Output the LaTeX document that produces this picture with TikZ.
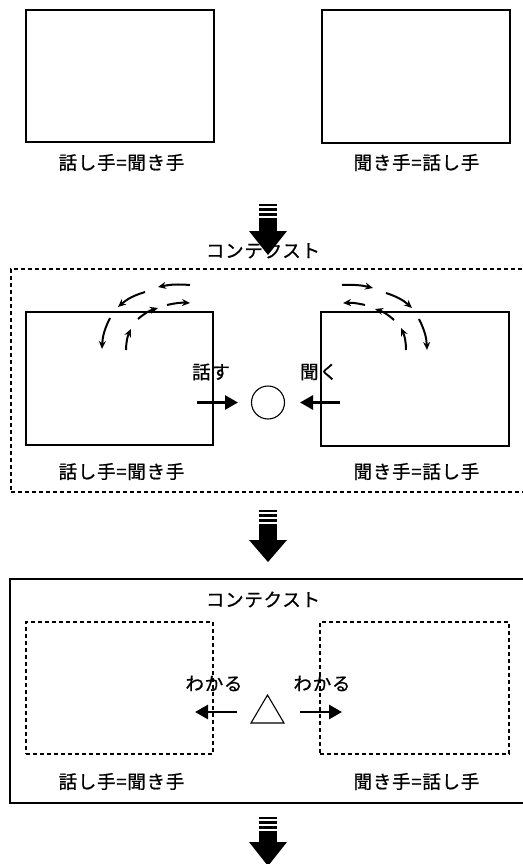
\documentclass[tikz,border=0pt]{standalone}
\usepackage{fontspec}
\newfontfamily\jp[LetterSpace=4,FakeBold=0.8]{Noto Sans CJK JP}
\usetikzlibrary{arrows.meta}
\newcommand\BigDown[3]{%
  \fill ({259},{#1}) rectangle ({277},{#1+2});
  \fill ({259},{#1+4}) rectangle ({277},{#1+7});
  \fill ({259},{#1+8.5}) rectangle ({277},{#1+12});
  \fill ({259},{#1+13.5}) rectangle ({277},{#2});
  \fill ({249},{#2}) -- ({287},{#2}) -- ({268},{#3}) -- cycle;
}
\begin{document}
\begin{tikzpicture}[x=1pt,y=-1pt,
  lbl/.style={font=\jp\fontsize{18.5}{20}\selectfont, inner sep=0pt},
  box/.style={draw, line width=1.2pt, inner sep=0pt, outer sep=0pt, anchor=north west},
  dbox/.style={draw, line width=1.1pt, dash pattern=on 4pt off 3pt, inner sep=0pt, outer sep=0pt, anchor=north west},
  thickarrow/.style={line width=2.8pt, -{Triangle[length=13pt,width=14pt]}},
  smallarrow/.style={line width=2pt, -{Stealth[length=8pt,width=7pt]}},
]
\useasboundingbox (0,0) rectangle (522,864);
\fill[white] (0,0) rectangle (522,864);

% ---------- stage 1 ----------
\node[box, minimum width=188pt, minimum height=132pt] (b1) at (26,10) {};
\node[box, minimum width=188pt, minimum height=133pt] (b2) at (322,10) {};
\node[lbl] (t1) at (121.5,162.5) {話し手=聞き手};
\node[lbl] (t2) at (416.5,162.5) {聞き手=話し手};

\BigDown{204}{231}{255}

% ---------- stage 2 ----------
\node[dbox, minimum width=529pt, minimum height=223pt] (ctxA) at (11,269) {};
\node[box, minimum width=187pt, minimum height=133pt] (m1) at (26,312) {};
\node[box, minimum width=188pt, minimum height=134pt] (m2) at (321,312) {};
\node[lbl] (cA) at (263,250.5) {コンテクスト};
\node[lbl] (hanasu) at (211,372) {話す};
\node[lbl] (kiku) at (319,372) {聞く};
\node[draw, circle, line width=1.1pt, minimum size=33pt, inner sep=0pt] (o) at (268,402.5) {};
\coordinate (ha1) at (197,402.5);
\coordinate (ha2) at (238,402.5);
\coordinate (ki1) at (340,402.5);
\coordinate (ki2) at (300,402.5);
\draw[thickarrow] (ha1) -- (ha2);
\draw[thickarrow] (ki1) -- (ki2);
\node[lbl] (m1l) at (121.5,471.5) {話し手=聞き手};
\node[lbl] (m2l) at (416.5,471.5) {聞き手=話し手};

% curved arrows, left
\draw[smallarrow] (190,285) to[bend right=8] (158,287);
\draw[smallarrow] (145,292) to[bend right=12] (118,307);
\draw[smallarrow] (110,318) to[bend right=12] (102,349);
\draw[smallarrow] (126,350) to[bend left=12] (131,329);
\draw[smallarrow] (138,319) to[bend left=12] (158,308);
\draw[smallarrow] (167,305) to[bend left=8] (190,303);
% curved arrows, right
\draw[smallarrow] (342,285) to[bend left=8] (373,288);
\draw[smallarrow] (386,293) to[bend left=12] (412,308);
\draw[smallarrow] (419,319) to[bend left=12] (427,350);
\draw[smallarrow] (406,350) to[bend right=12] (401,328);
\draw[smallarrow] (394,320) to[bend right=12] (375,309);
\draw[smallarrow] (365,305) to[bend right=8] (343,303);

\BigDown{510}{540}{562}

% ---------- stage 3 ----------
\node[box, minimum width=530pt, minimum height=224pt] (ctxB) at (10,579) {};
\node[lbl] (cB) at (263,599.5) {コンテクスト};
\node[dbox, minimum width=187pt, minimum height=132pt] (d1) at (26,622) {};
\node[dbox, minimum width=189pt, minimum height=132pt] (d2) at (320,622) {};
\node[lbl] (w1) at (214,683.5) {わかる};
\node[lbl] (w2) at (322,683.5) {わかる};
\coordinate (wa1) at (237,712);
\coordinate (wa2) at (195,712);
\coordinate (wb1) at (300,712);
\coordinate (wb2) at (342,712);
\draw[thickarrow] (wa1) -- (wa2);
\draw[thickarrow] (wb1) -- (wb2);
\draw[line width=1.1pt, line join=miter] (251,723) -- (284,723) -- (267.5,695) -- cycle;
\node[lbl] (d1l) at (121.5,781.5) {話し手=聞き手};
\node[lbl] (d2l) at (416.5,781.5) {聞き手=話し手};

\BigDown{817}{842}{866}
\end{tikzpicture}
\end{document}
